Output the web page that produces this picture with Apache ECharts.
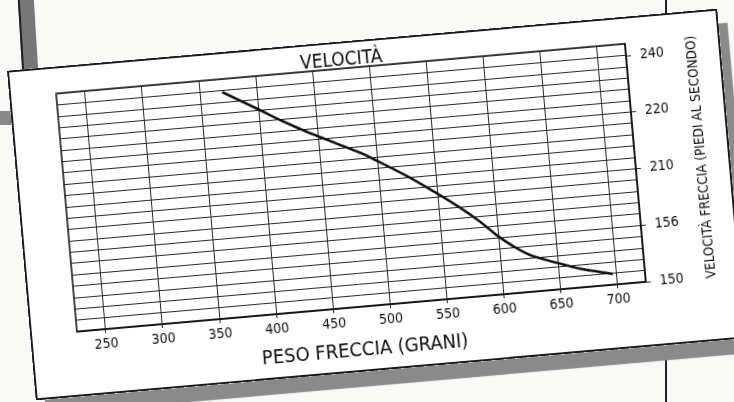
<!DOCTYPE html>
<html><head><meta charset="utf-8">
<script src="https://cdn.jsdelivr.net/npm/echarts@6/dist/echarts.min.js"></script>
<style>
html,body{margin:0;padding:0;width:734px;height:402px;overflow:hidden;background:#f9f9f7;}
.deco{position:absolute;}
#card{position:absolute;left:20px;top:39px;width:713px;height:331px;transform:rotate(-5deg);transform-origin:50% 50%;background:#fff;box-shadow:inset 0 0 0 2px #1a1a1a, 9px 15px 1px #8a8a8a;}
#chart{position:absolute;left:0;top:0;width:713px;height:331px;}
</style></head>
<body>
<div class="deco" style="left:20px;top:-8px;width:14px;height:86px;background:#777;border-left:2px solid #222;transform:rotate(-3.5deg);"></div>
<div class="deco" style="left:0;top:111px;width:20px;height:14px;background:#888;"></div>
<div class="deco" style="left:665px;top:0;width:2px;height:402px;background:#222;"></div>
<div id="card"><div id="chart"></div></div>
<script>
// Data
const xTickValues = [250, 300, 350, 400, 450, 500, 550, 600, 650, 700];
const yTickLabels = ['150', '156', '210', '220', '240'];   // equally spaced ticks, bottom to top
const yTickPositions = [0, 1, 2, 3, 4];                    // tick steps on the velocity axis
const curveX = [370, 402, 421, 441, 463, 486, 497, 525, 547, 569, 585, 599, 612, 626, 649, 669, 697];
const curveY = [3.98, 3.60, 3.37, 3.15, 2.93, 2.70, 2.57, 2.22, 1.91, 1.58, 1.31, 1.04, 0.83, 0.65, 0.47, 0.33, 0.19];
const titleText = 'VELOCITÀ';
const xName = 'PESO FRECCIA (GRANI)';
const yName = 'VELOCITÀ FRECCIA (PIEDI AL SECONDO)';

const FONT = "'DejaVu Sans Condensed','Liberation Sans Narrow',sans-serif";
const ink = '#0d0d0d';
const chart = echarts.init(document.getElementById('chart'), null, {renderer: 'canvas'});
const data = curveX.map((x, i) => [x, curveY[i]]);
chart.setOption({
  animation: false,
  title: {
    text: titleText, left: 334, top: 10, textAlign: 'center', padding: 0,
    textStyle: {fontFamily: FONT, fontSize: 19, fontWeight: 'normal', color: ink}
  },
  grid: {left: 47, top: 27, width: 571, height: 239, show: true, borderColor: ink, borderWidth: 1.5},
  xAxis: {
    type: 'value', min: 225, max: 725, interval: 25,
    name: xName, nameLocation: 'middle', nameGap: 34,
    nameTextStyle: {fontFamily: FONT, fontSize: 20, color: ink},
    axisLine: {show: true, lineStyle: {color: ink, width: 1.5}},
    axisTick: {show: true, customValues: xTickValues, length: 4, lineStyle: {color: '#222'}},
    axisLabel: {customValues: xTickValues, margin: 8, fontFamily: FONT, fontSize: 14, color: ink},
    splitLine: {show: true, lineStyle: {color: '#2a2a2a', width: 1}}
  },
  yAxis: [{
    type: 'value', position: 'right', min: 0, max: 4.21,
    name: yName, nameLocation: 'middle', nameRotate: 90, nameGap: 59,
    nameTextStyle: {fontFamily: FONT, fontSize: 13.5, color: ink},
    axisLine: {show: true, lineStyle: {color: ink, width: 1.5}},
    axisTick: {show: true, customValues: yTickPositions, length: 5, inside: false, lineStyle: {color: '#222'}},
    axisLabel: {customValues: yTickPositions, margin: 14, fontFamily: FONT, fontSize: 14, color: ink,
      formatter: v => yTickLabels[Math.round(v)]},
    splitLine: {show: false}
  }, {
    type: 'value', position: 'left', min: 0, max: 21, interval: 1,
    axisLine: {show: false}, axisTick: {show: false}, axisLabel: {show: false},
    splitLine: {show: true, lineStyle: {color: '#2a2a2a', width: 1}}
  }],
  series: [{
    type: 'line', yAxisIndex: 0, data: data, showSymbol: false,
    smooth: 0.35,
    lineStyle: {color: ink, width: 2.5}
  }]
});
</script>
</body></html>
